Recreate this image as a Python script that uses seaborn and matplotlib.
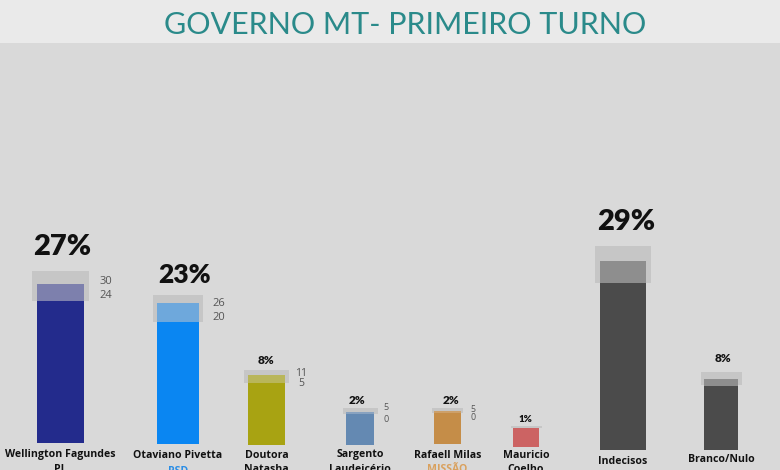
import matplotlib
matplotlib.use("Agg")
import matplotlib.pyplot as plt
import seaborn as sns
import numpy as np

# ---------------- data ----------------
names_line1 = ["Wellington Fagundes", "Otaviano Pivetta", "Doutora", "Sargento",
               "Rafaell Milas", "Mauricio", "Indecisos", "Branco/Nulo"]
names_line2 = ["PL", "PSD", "Natasha", "Laudeicério", "MISSÃO", "Coelho", "", ""]
pct_labels = ["27%", "23%", "8%", "2%", "2%", "1%", "29%", "8%"]
range_hi = ["30", "26", "11", "5", "5", "", "", ""]
range_lo = ["24", "20", "5", "0", "0", "", "", ""]
# bar heights as drawn in the picture (solid part, tinted part, grey margin box)
solid = [24.2, 20.7, 10.5, 5.3, 5.5, 3.0, 27.2, 10.0]
tint = [27.0, 23.8, 11.8, 5.7, 5.8, 3.0, 30.8, 11.2]
box_lo = [24.2, 20.7, 10.5, 5.3, 5.5, 3.0, 27.2, 10.2]
box_hi = [29.2, 25.2, 12.7, 6.3, 6.3, 3.3, 33.3, 12.3]

# ---------------- layout / style ----------------
W, H = 780, 470
BASE = 446   # baseline pixel row
UNIT = 6.0   # pixels per unit


def py(row):
    """pixel row -> data y"""
    return (BASE - row) / UNIT


xpos = [60.5, 178, 266.5, 360, 447.5, 526, 623, 721]
bottom_px = [443, 444, 445, 445, 444, 447, 450, 450]
bar_w = [47, 42, 37, 28, 27, 26, 46, 34]
box_w = [57, 50, 45, 35, 31, 31, 56, 41]
solid_colors = ["#232b8c", "#0a86f2", "#a8a312", "#6489b2", "#c58d48", "#cc6363", "#4b4b4b", "#4b4b4b"]
tint_colors = ["#7d80ad", "#6ea8dc", "#b9b65a", "#88a2c0", "#cda06a", "#cc6363", "#8e8e8e", "#8e8e8e"]
pct_x = [62, 184.5, 266, 357, 451, 525, 626, 723]
pct_y = [247, 275, 360, 400, 400, 419, 222, 359]   # pixel rows (label centres)
pct_size = [21, 19, 8.5, 8.5, 8.5, 7, 21, 8.5]
name_y = [455, 456, 455, 455, 455, 455, 461, 460]
line2_colors = ["#111111", "#2b8ee6", "#111111", "#111111", "#d9a15e", "#111111", "#111111", "#111111"]
range_x = [106, 219, 301, 386, 473, 0, 0, 0]
range_hi_y = [281, 303, 373, 408, 409, 0, 0, 0]
range_lo_y = [295, 317, 384, 419, 418, 0, 0, 0]
range_size = [8, 8, 7.5, 6.5, 6.3, 7, 7, 7]

bottoms = np.array([py(b) for b in bottom_px])

sns.set_theme(style="white")
plt.rcParams["font.family"] = ["Open Sans", "DejaVu Sans"]

fig = plt.figure(figsize=(W / 100, H / 100), dpi=100)
fig.patch.set_facecolor("#d9d9d9")
ax = fig.add_axes([0, 0, 1, 1])
ax.set_facecolor("#d9d9d9")

# title strip
fig.patches.append(plt.Rectangle((0, 1 - 43 / H), 1, 43 / H, transform=fig.transFigure,
                                 facecolor="#eaeaea", edgecolor="none", zorder=0))
fig.text(405 / W, 1 - 24.5 / H, "GOVERNO MT- PRIMEIRO TURNO", ha="center", va="center",
         fontsize=22, color="#2a8a8a", family=["Lato", "DejaVu Sans"], fontweight="normal")

# grey margin-of-error boxes
ax.bar(xpos, np.array(box_hi) - np.array(box_lo), bottom=box_lo, width=box_w,
       color="#c6c6c6", edgecolor="none", zorder=1)
# tinted part
ax.bar(xpos, np.array(tint) - bottoms, bottom=bottoms, width=bar_w, color=tint_colors,
       edgecolor="none", zorder=2)
# solid part via seaborn
sns.barplot(x=xpos, y=solid, hue=names_line1, palette=solid_colors, native_scale=True,
            legend=False, ax=ax, saturation=1, zorder=3, dodge=False)
solid_patches = [p for p in ax.patches if p.get_zorder() == 3]
for p, x, w, b, s in zip(solid_patches, xpos, bar_w, bottoms, solid):
    p.set_x(x - w / 2)
    p.set_width(w)
    p.set_y(b)
    p.set_height(s - b)
    p.set_edgecolor("none")
ax.set_xlim(0, W)
ax.set_ylim(py(H), py(0))
ax.axis("off")

for i in range(len(xpos)):
    ax.text(pct_x[i], py(pct_y[i]), pct_labels[i], ha="center", va="center",
            fontsize=pct_size[i], fontweight="heavy", color="#111111",
            family=["Lato", "DejaVu Sans"], zorder=5)
    if range_hi[i]:
        ax.text(range_x[i], py(range_hi_y[i]), range_hi[i], ha="center", va="center",
                fontsize=range_size[i], color="#555555", zorder=5)
        ax.text(range_x[i], py(range_lo_y[i]), range_lo[i], ha="center", va="center",
                fontsize=range_size[i], color="#555555", zorder=5)
    ax.text(xpos[i], py(name_y[i]), names_line1[i], ha="center", va="center",
            fontsize=7.6, fontweight="bold", color="#111111", zorder=5)
    if names_line2[i]:
        ax.text(xpos[i], py(name_y[i] + 15), names_line2[i], ha="center", va="center",
                fontsize=7.6, fontweight="bold", color=line2_colors[i], zorder=5)

fig.savefig("out.png", dpi=100, facecolor=fig.get_facecolor())
